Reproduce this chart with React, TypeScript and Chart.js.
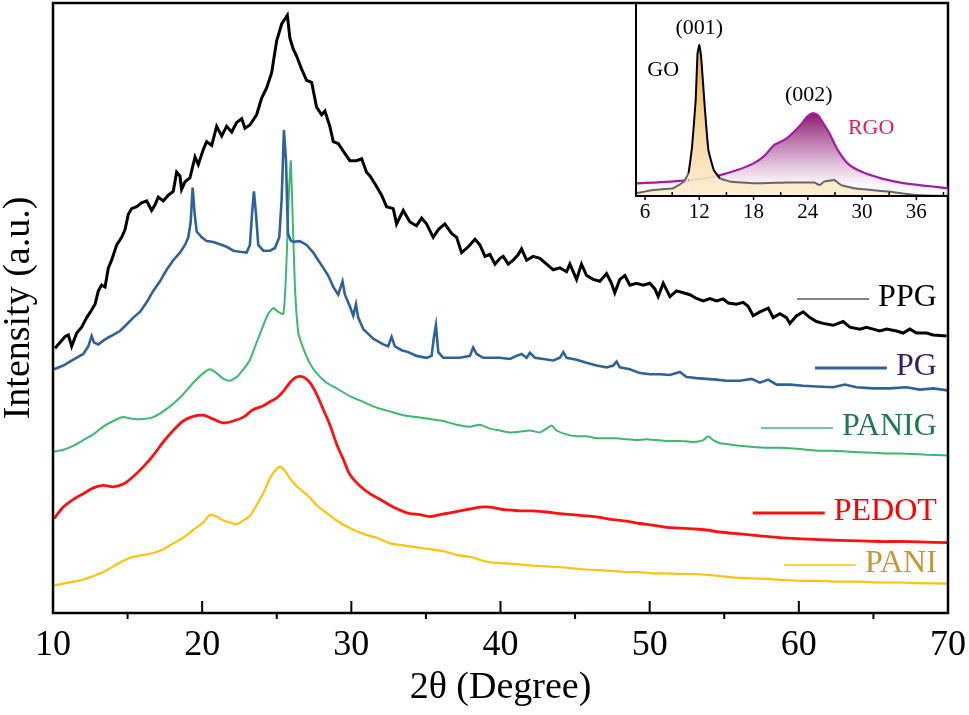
import React, { useEffect, useRef } from "react";
import { Chart, registerables } from "chart.js";

Chart.register(...registerables);

const FONT = "'Liberation Serif', 'Times New Roman', Times, serif";

// ---------------- main chart data (2θ in degrees, intensity in a.u.) ----------------
const ppgX = [10.13, 10.47, 10.8, 11.03, 11.25, 11.59, 11.92, 12.26, 12.59, 12.82, 13.04, 13.26, 13.49, 13.71, 13.93, 14.27, 14.6, 14.83, 15.05, 15.27, 15.61, 15.94, 16.28, 16.61, 16.84, 17.06, 17.39, 17.73, 18.06, 18.29, 18.51, 18.62, 18.85, 19.18, 19.52, 19.74, 20.08, 20.3, 20.64, 20.97, 21.31, 21.64, 21.98, 22.31, 22.65, 22.87, 23.2, 23.65, 23.99, 24.32, 24.66, 24.99, 25.33, 25.71, 25.88, 26.1, 26.33, 26.66, 27.0, 27.34, 27.67, 28.01, 28.23, 28.56, 28.79, 29.12, 29.46, 29.9, 30.35, 30.69, 31.02, 31.25, 31.58, 32.03, 32.36, 32.81, 33.03, 33.48, 33.93, 34.37, 34.71, 35.04, 35.49, 35.83, 36.27, 36.72, 37.06, 37.39, 37.84, 38.29, 38.62, 38.96, 39.29, 39.63, 39.97, 40.18, 40.52, 40.85, 41.19, 41.41, 41.75, 42.19, 42.64, 43.09, 43.54, 43.98, 44.43, 44.65, 45.1, 45.43, 45.77, 46.21, 46.66, 47.11, 47.44, 47.66, 48.0, 48.34, 48.67, 49.12, 49.57, 50.01, 50.35, 50.57, 50.91, 51.36, 51.8, 52.25, 52.7, 53.14, 53.59, 54.04, 54.48, 54.93, 55.27, 55.82, 56.27, 56.6, 56.94, 57.39, 57.95, 58.28, 58.73, 59.17, 59.4, 59.85, 60.29, 60.74, 61.18, 61.63, 62.3, 62.97, 63.42, 64.09, 64.53, 64.98, 65.43, 65.88, 66.55, 66.99, 67.44, 67.89, 68.56, 69.01, 69.9];
const ppgY = [264.7, 270.5, 276.2, 278.1, 266.7, 280, 285.8, 295.4, 303, 308.8, 322.1, 327.9, 326, 345.1, 352.8, 368.1, 375.7, 383.4, 398.7, 404.4, 406.3, 410.2, 412.1, 402.5, 408.3, 415.9, 412.1, 417.8, 421.6, 440.8, 437, 423.6, 431.2, 435, 456.1, 448.4, 463.7, 471.4, 467.6, 486.7, 477.1, 486.7, 481, 490.5, 494.4, 484.8, 488, 498.2, 515, 525, 540.3, 572, 589, 597.7, 575, 564, 557, 544.1, 532.6, 530.7, 505.8, 498.2, 502, 486.7, 471.4, 469.5, 461.8, 452.3, 452.3, 454.2, 440.8, 437, 429.3, 417.8, 406.3, 404.4, 389.1, 402.5, 391, 387.2, 394.9, 389.1, 375.7, 383.4, 389.1, 379.6, 375.7, 360.4, 366.2, 373.8, 368.1, 356.6, 358.5, 348.9, 354.7, 356.6, 348.9, 352.8, 358.5, 364.2, 352.8, 356.6, 354.7, 348.9, 343.2, 345.1, 341.3, 348.9, 333.6, 348.9, 337.5, 333.6, 331.7, 339.4, 329.8, 320.2, 333.6, 337.5, 327.9, 329.8, 327.9, 329.8, 324.1, 316.4, 329.8, 316.4, 322.1, 320.2, 318.3, 314.5, 312, 314.5, 312, 314, 310, 308.8, 310.7, 306.8, 297.3, 301.1, 304.9, 295.4, 299.2, 295.4, 289.6, 297.3, 301.1, 295.4, 291.5, 289.6, 287.7, 291.5, 285.8, 283.9, 285.8, 283.9, 282, 283.9, 282, 280, 283.9, 280, 280, 278.1, 277];

const pgX = [10.07, 10.69, 11.36, 12.03, 12.37, 12.59, 12.75, 13.04, 13.37, 13.71, 14.04, 14.49, 14.93, 15.38, 15.83, 16.28, 16.72, 17.17, 17.62, 18.06, 18.51, 18.85, 19.07, 19.23, 19.36, 19.5, 19.63, 19.97, 20.3, 20.75, 21.19, 21.64, 22.09, 22.53, 22.98, 23.2, 23.34, 23.47, 23.61, 23.76, 24.1, 24.55, 24.88, 25.17, 25.33, 25.48, 25.62, 25.75, 25.93, 26.1, 26.55, 27.0, 27.45, 27.78, 28.12, 28.45, 28.79, 29.12, 29.41, 29.57, 29.9, 30.13, 30.31, 30.46, 30.8, 31.47, 32.14, 32.47, 32.7, 32.92, 33.37, 33.82, 34.37, 35.04, 35.38, 35.54, 35.67, 35.83, 36.16, 36.61, 37.28, 37.95, 38.17, 38.4, 38.84, 39.29, 39.96, 40.63, 41.08, 41.41, 41.75, 41.97, 42.31, 42.87, 43.54, 43.98, 44.21, 44.43, 45.1, 45.77, 46.44, 47.11, 47.56, 47.78, 48.0, 48.67, 49.34, 50.01, 50.68, 51.36, 52.03, 52.47, 53.14, 53.81, 54.48, 55.15, 56.05, 56.83, 57.39, 57.95, 58.51, 59.4, 60.29, 61.18, 62.3, 63.08, 63.87, 64.98, 66.1, 67.22, 68.11, 69.01, 69.95];
const pgY = [243.7, 247.5, 253.3, 259, 266.7, 277, 270.5, 268.6, 272.4, 275.5, 278.1, 282, 288.5, 295.4, 301.1, 310.7, 322.1, 331.7, 343.2, 352.8, 360.4, 368.1, 375.7, 391, 425.5, 398.7, 381.5, 375.7, 371.9, 371.1, 368.8, 366.2, 362.3, 361.2, 360.4, 368.1, 398.7, 421.6, 398.7, 368.1, 362.3, 362.3, 365, 375.7, 414, 482.9, 452.3, 379.6, 372.7, 371.1, 371.9, 368.1, 360.4, 352.8, 345.1, 337.5, 326, 318.3, 331.7, 318.3, 306.8, 297.3, 308.8, 295.4, 283.9, 274.3, 268.6, 266.7, 276.2, 266.7, 262.8, 260.9, 257.1, 255.2, 257.1, 276.2, 287.7, 260.9, 255.2, 255.2, 255.2, 257.1, 265.5, 259, 255.2, 255.2, 255.2, 254, 257.1, 259, 255.2, 260.2, 255.2, 254, 252.5, 255.2, 260.9, 255.2, 253.3, 250.2, 247.5, 245.6, 247.5, 251.4, 245.6, 243.7, 239.9, 238.7, 238.7, 238, 241, 236, 234.9, 234.1, 233.4, 232.2, 232.2, 234.1, 230.3, 233.4, 228.4, 228.4, 227.2, 226.5, 225.7, 228.4, 225.7, 224.6, 224.6, 225.7, 223.4, 224.6, 222.6];

const panigX = [10.07, 10.69, 11.36, 12.03, 12.7, 13.37, 14.04, 14.71, 15.38, 16.05, 16.72, 17.39, 18.06, 18.73, 19.4, 20.08, 20.52, 20.97, 21.42, 21.86, 22.31, 22.76, 23.2, 23.65, 24.1, 24.43, 24.77, 25.1, 25.44, 25.58, 25.7, 25.82, 25.94, 26.06, 26.22, 26.45, 26.78, 27.23, 27.67, 28.34, 29.01, 29.9, 30.8, 31.69, 32.59, 33.48, 34.37, 35.27, 36.16, 37.06, 37.95, 38.62, 39.29, 39.96, 40.63, 41.3, 41.97, 42.64, 43.09, 43.43, 43.76, 44.43, 45.1, 45.77, 46.44, 47.11, 47.78, 48.45, 49.12, 49.79, 50.46, 51.13, 52.03, 52.92, 53.59, 53.93, 54.26, 54.71, 55.15, 56.05, 56.94, 57.83, 58.73, 59.62, 60.51, 61.41, 62.3, 63.2, 64.09, 64.98, 65.88, 66.77, 67.67, 68.56, 70.0];
const panigY = [161.4, 163.3, 167.2, 172.9, 178.6, 186.3, 192, 195.9, 193.9, 193.9, 195.9, 201.6, 209.2, 218.8, 230.3, 239.9, 243.7, 239.9, 234.1, 232.2, 236, 243.7, 253, 270.5, 287.7, 299.2, 304.9, 301.1, 299, 325, 370, 421, 452, 399, 326, 280, 264.7, 249.4, 239.9, 230.3, 224.6, 216.9, 211.2, 205.4, 201.6, 197.8, 195.9, 193.9, 192, 188.2, 186.3, 188.2, 184.4, 182.5, 180.5, 181.3, 182.5, 180.5, 184.4, 187.4, 182.5, 178.6, 176.7, 176.7, 174.8, 174.8, 174.8, 173.7, 172.9, 173.7, 172.9, 172.1, 172.1, 171, 172.9, 176.7, 172.9, 169.8, 169.1, 167.2, 166, 165.2, 165.2, 164.5, 163.3, 162.2, 162.2, 161.4, 160.7, 160.3, 159.5, 159.5, 159.1, 158.3, 157.6];

const pedotX = [10.07, 10.69, 11.36, 12.03, 12.7, 13.37, 14.04, 14.71, 15.38, 16.05, 16.72, 17.39, 18.06, 18.73, 19.4, 20.08, 20.75, 21.42, 22.09, 22.76, 23.43, 24.1, 24.54, 24.99, 25.44, 25.88, 26.33, 26.78, 27.23, 27.67, 28.12, 28.56, 29.01, 29.46, 29.9, 30.58, 31.25, 32.14, 32.81, 33.71, 34.6, 35.27, 35.94, 36.61, 37.28, 37.95, 38.62, 39.29, 39.97, 40.41, 41.3, 42.19, 43.09, 43.98, 44.88, 45.77, 46.66, 47.56, 48.45, 49.34, 50.24, 51.13, 52.03, 52.92, 53.81, 54.7, 56.05, 57.39, 58.73, 60.07, 61.41, 62.75, 64.09, 65.43, 66.77, 68.11, 70.0];
const pedotY = [94.4, 105.9, 113.6, 119.3, 125.1, 127.7, 126.2, 128.9, 136.5, 146.1, 157.6, 171, 182.5, 192, 196.6, 197.8, 193.9, 190.1, 192, 195.9, 203.5, 207.3, 211.2, 215, 221.6, 230.3, 236, 236, 230.3, 218.8, 203.5, 188.2, 169.1, 153.8, 138.4, 127, 119.3, 111.7, 105.9, 100.2, 98.3, 96.4, 98.3, 100.2, 102.1, 104, 105.9, 105.9, 104, 103.2, 102.1, 102.1, 101, 99.4, 98.3, 97.1, 95.6, 93.3, 91.8, 89.5, 87.9, 85.6, 84.9, 84.1, 83, 81, 79.1, 77.2, 75.3, 74.2, 73.4, 72.6, 72.2, 71.5, 71.5, 71.1, 70.3];

const paniX = [10.07, 10.69, 11.36, 12.03, 12.7, 13.37, 14.04, 14.71, 15.38, 16.05, 16.72, 17.39, 18.06, 18.73, 19.4, 20.08, 20.52, 20.97, 21.42, 21.86, 22.31, 22.76, 23.2, 23.65, 24.1, 24.54, 24.88, 25.21, 25.5, 25.88, 26.33, 26.78, 27.23, 27.67, 28.34, 29.01, 29.9, 30.8, 31.69, 32.59, 33.48, 34.37, 35.27, 36.16, 37.06, 37.95, 38.84, 39.51, 40.41, 41.3, 42.19, 43.09, 43.98, 44.88, 45.77, 46.66, 47.56, 48.45, 49.34, 50.24, 51.13, 52.03, 52.92, 53.81, 54.7, 56.05, 57.39, 58.73, 60.07, 61.41, 62.75, 64.09, 65.43, 66.77, 68.11, 70.0];
const paniY = [27.5, 29.4, 31.3, 33.2, 37, 40.9, 46.6, 52.3, 56.2, 58.1, 60, 63.8, 69.6, 75.3, 83, 90.6, 98.3, 96.4, 92.5, 90.6, 88.7, 92.5, 97.3, 107.8, 120, 134.6, 142.3, 146.1, 143, 134.6, 127, 121.2, 115.5, 107.8, 100.2, 92.5, 84.9, 79.1, 75.3, 69.6, 67.7, 65.7, 63.8, 61.9, 58.1, 56.2, 52.3, 50.4, 49.7, 48.5, 47.4, 46.6, 45.8, 44.7, 43.5, 42.8, 42, 40.9, 40.9, 39.7, 39.7, 39, 39, 38.2, 37, 35.1, 34.4, 33.2, 32.1, 32.1, 31.3, 31.3, 30.5, 30.5, 29.8, 29.4];

const seriesNames = ["PPG", "PG", "PANIG", "PEDOT", "PANI"];
const xMajorTicks = [10, 20, 30, 40, 50, 60, 70];
const xMinorTicks = [15, 25, 35, 45, 55, 65];

// ---------------- inset data ----------------
const goX = [5, 6.9, 9.1, 10.3, 10.8, 11.2, 11.6, 11.8, 12.0, 12.2, 12.6, 13.0, 13.6, 14.3, 15.4, 18.0, 21.7, 24.7, 25.3, 25.8, 26.9, 27.7, 29.1, 32.9, 35.8, 39.5];
const goY = [1.4, 3.1, 4.0, 7.5, 11.8, 25.7, 50, 74.3, 78.6, 72.6, 46.5, 24, 13.5, 9.2, 7.5, 6.6, 7.0, 7.0, 5.7, 7.5, 8.3, 5.7, 4.0, 2.3, 0.5, 0];
const rgoX = [5, 8.8, 12.5, 14.3, 16.2, 18.0, 19.1, 20.3, 21.4, 22.1, 23.2, 23.9, 24.5, 25.1, 25.6, 26.4, 27.3, 28.4, 29.9, 32.1, 34.7, 37.3, 39.5];
const rgoY = [6.6, 7.5, 9.2, 10.9, 13.5, 17.0, 20.5, 26.6, 29.2, 31.8, 37, 41.3, 43.1, 42.2, 38.7, 32.6, 24, 17, 12.7, 9.2, 6.6, 5.2, 4.0];
const insetMajorTicks = [6, 12, 18, 24, 30, 36];
const insetMinorTicks = [9, 15, 21, 27, 33, 39];

function zip(xs: number[], ys: number[]) {
  return xs.map((x, i) => ({ x, y: ys[i] }));
}

// label annotations (position in data units of the main chart)
const seriesLabels = [
  { text: "PPG", color: "#000000", line: "#5a5a5a", lw: 1.5, x: 69.25, y: 315 },
  { text: "PG", color: "#3c1a68", line: "#2f6398", lw: 3, x: 69.25, y: 246 },
  { text: "PANIG", color: "#1f7a4c", line: "#3cb96c", lw: 1.5, x: 69.25, y: 186 },
  { text: "PEDOT", color: "#ff0000", line: "#ff1111", lw: 3, x: 69.25, y: 101 },
  { text: "PANI", color: "#c8963a", line: "#ffc20e", lw: 1.5, x: 69.25, y: 49 },
];

const mainPlugin = {
  id: "mainDecor",
  afterDraw(chart: any) {
    const { ctx, chartArea: a, scales } = chart;
    const xs = scales.x;
    const ys = scales.y;
    ctx.save();
    // frame
    ctx.strokeStyle = "#000";
    ctx.lineWidth = 2.5;
    ctx.strokeRect(a.left, a.top, a.right - a.left, a.bottom - a.top);
    // ticks
    ctx.lineWidth = 2;
    ctx.beginPath();
    for (const v of xMajorTicks) {
      const px = xs.getPixelForValue(v);
      ctx.moveTo(px, a.bottom);
      ctx.lineTo(px, a.bottom - 12);
    }
    for (const v of xMinorTicks) {
      const px = xs.getPixelForValue(v);
      ctx.moveTo(px, a.bottom);
      ctx.lineTo(px, a.bottom + 6);
    }
    ctx.stroke();
    // tick labels
    ctx.fillStyle = "#000";
    ctx.font = `36px ${FONT}`;
    ctx.textAlign = "center";
    ctx.textBaseline = "middle";
    for (const v of xMajorTicks) {
      ctx.fillText(String(v), xs.getPixelForValue(v), a.bottom + 33);
    }
    // series labels
    ctx.font = `32px ${FONT}`;
    ctx.textAlign = "right";
    for (const l of seriesLabels) {
      const rx = xs.getPixelForValue(l.x);
      const cy = ys.getPixelForValue(l.y);
      const w = ctx.measureText(l.text).width;
      ctx.fillStyle = l.color;
      ctx.fillText(l.text, rx, cy);
      ctx.strokeStyle = l.line;
      ctx.lineWidth = l.lw;
      ctx.beginPath();
      ctx.moveTo(rx - w - 9 - 72, cy + 1);
      ctx.lineTo(rx - w - 9, cy + 1);
      ctx.stroke();
    }
    ctx.restore();
  },
};

const insetTexts = [
  { text: "(001)", color: "#000", x: 12, y: 87.5 },
  { text: "GO", color: "#000", x: 8.0, y: 65.6 },
  { text: "(002)", color: "#000", x: 24.1, y: 52.6 },
  { text: "RGO", color: "#e41b5b", x: 31, y: 35.4 },
];

const insetPlugin = {
  id: "insetDecor",
  afterDraw(chart: any) {
    const { ctx, chartArea: a, scales } = chart;
    const xs = scales.x;
    const ys = scales.y;
    ctx.save();
    ctx.strokeStyle = "#000";
    ctx.lineWidth = 2;
    ctx.beginPath();
    ctx.moveTo(a.left, a.top);
    ctx.lineTo(a.left, a.bottom);
    ctx.lineTo(a.right, a.bottom);
    ctx.stroke();
    ctx.lineWidth = 1.5;
    ctx.beginPath();
    for (const v of insetMajorTicks) {
      const px = xs.getPixelForValue(v);
      ctx.moveTo(px, a.bottom);
      ctx.lineTo(px, a.bottom + 4);
    }
    for (const v of insetMinorTicks) {
      const px = xs.getPixelForValue(v);
      ctx.moveTo(px, a.bottom);
      ctx.lineTo(px, a.bottom - 4);
    }
    ctx.stroke();
    ctx.fillStyle = "#000";
    ctx.font = `21px ${FONT}`;
    ctx.textAlign = "center";
    ctx.textBaseline = "middle";
    for (const v of insetMajorTicks) {
      ctx.fillText(String(v), xs.getPixelForValue(v), a.bottom + 16);
    }
    ctx.font = `22px ${FONT}`;
    for (const t of insetTexts) {
      ctx.fillStyle = t.color;
      ctx.fillText(t.text, xs.getPixelForValue(t.x), ys.getPixelForValue(t.y));
    }
    ctx.restore();
  },
};

export default function App() {
  const mainRef = useRef<HTMLCanvasElement | null>(null);
  const insetRef = useRef<HTMLCanvasElement | null>(null);

  useEffect(() => {
    if (!mainRef.current || !insetRef.current) return;
    const titleFont = { family: FONT, size: 38, lineHeight: 1 };
    const main = new Chart(mainRef.current, {
      type: "line",
      data: {
        datasets: [
          { label: seriesNames[0], data: zip(ppgX, ppgY), borderColor: "#000000", borderWidth: 3, pointRadius: 0, tension: 0, fill: false },
          { label: seriesNames[1], data: zip(pgX, pgY), borderColor: "#2f6398", borderWidth: 2.6, pointRadius: 0, tension: 0, fill: false },
          { label: seriesNames[2], data: zip(panigX, panigY), borderColor: "#3cb96c", borderWidth: 2, pointRadius: 0, tension: 0.15, fill: false },
          { label: seriesNames[3], data: zip(pedotX, pedotY), borderColor: "#ff1111", borderWidth: 2.8, pointRadius: 0, tension: 0.3, fill: false },
          { label: seriesNames[4], data: zip(paniX, paniY), borderColor: "#ffc20e", borderWidth: 2.2, pointRadius: 0, tension: 0.2, fill: false },
        ],
      },
      options: {
        animation: false,
        responsive: false,
        parsing: false as any,
        layout: { padding: { top: 3, right: 21, left: 0, bottom: 0 } },
        plugins: { legend: { display: false }, tooltip: { enabled: false } },
        scales: {
          x: {
            type: "linear",
            min: 10,
            max: 70,
            grid: { display: false },
            border: { display: false },
            ticks: { display: false },
            title: { display: true, text: "2θ (Degree)", color: "#000", font: titleFont, padding: { top: 0, bottom: 8 } },
            afterFit: (s: any) => { s.height = 102; },
          },
          y: {
            type: "linear",
            min: 0,
            max: 610,
            grid: { display: false },
            border: { display: false },
            ticks: { display: false },
            title: { display: true, text: "Intensity (a.u.)", color: "#000", font: titleFont, padding: { top: 0, bottom: 0 } },
            afterFit: (s: any) => { s.width = 53; },
          },
        },
      },
      plugins: [mainPlugin],
    });

    const inset = new Chart(insetRef.current, {
      type: "line",
      data: {
        datasets: [
          {
            label: "GO",
            data: zip(goX, goY),
            borderWidth: 2,
            borderColor: "#000",
            segment: {
              borderColor: (c: any) => (c.p0.parsed.y > 12 || c.p1.parsed.y > 12 ? "#000000" : "#666666"),
            },
            pointRadius: 0,
            tension: 0.1,
            fill: "origin",
            backgroundColor: (c: any) => {
              const ch = c.chart;
              const a = ch.chartArea;
              if (!a) return "rgba(245,200,120,0.6)";
              const g = ch.ctx.createLinearGradient(0, ch.scales.y.getPixelForValue(78), 0, a.bottom);
              g.addColorStop(0, "rgba(236,168,58,0.95)");
              g.addColorStop(0.5, "rgba(246,208,140,0.9)");
              g.addColorStop(1, "rgba(252,238,208,0.9)");
              return g;
            },
          },
          {
            label: "RGO",
            data: zip(rgoX, rgoY),
            borderWidth: 2.2,
            borderColor: "#a21ca6",
            pointRadius: 0,
            tension: 0.25,
            fill: "origin",
            backgroundColor: (c: any) => {
              const ch = c.chart;
              const a = ch.chartArea;
              if (!a) return "rgba(150,40,120,0.4)";
              const g = ch.ctx.createLinearGradient(0, ch.scales.y.getPixelForValue(43), 0, a.bottom);
              g.addColorStop(0, "rgba(140,26,110,1)");
              g.addColorStop(0.45, "rgba(190,120,175,0.8)");
              g.addColorStop(0.85, "rgba(245,235,245,0.6)");
              g.addColorStop(1, "rgba(255,255,255,0.4)");
              return g;
            },
          },
        ],
      },
      options: {
        animation: false,
        responsive: false,
        parsing: false as any,
        layout: { padding: { left: 36, right: 21, top: 4, bottom: 34 } },
        plugins: { legend: { display: false }, tooltip: { enabled: false } },
        scales: {
          x: { type: "linear", min: 5, max: 39.5, display: false },
          y: { type: "linear", min: 0, max: 100, display: false },
        },
      },
      plugins: [insetPlugin],
    });

    return () => {
      main.destroy();
      inset.destroy();
    };
  }, []);

  return (
    <div style={{ position: "fixed", left: 0, top: 0, width: 969, height: 715, background: "#fff" }}>
      <canvas ref={mainRef} width={969} height={715} style={{ position: "absolute", left: 0, top: 0, width: 969, height: 715 }} />
      <canvas ref={insetRef} width={369} height={230} style={{ position: "absolute", left: 600, top: 0, width: 369, height: 230 }} />
    </div>
  );
}
